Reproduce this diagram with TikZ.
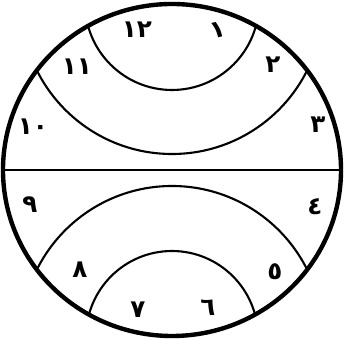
\documentclass[tikz,border=0pt]{standalone}
\usepackage{fontspec}
\newfontfamily\arabicfont[Script=Arabic]{DejaVu Sans}
\usepackage{tikz}
\usetikzlibrary{calc}

\tikzset{
  num/.style={font=\arabicfont\bfseries\fontsize{14}{16}\selectfont,inner sep=0pt},
  rim/.style={line width=2.5pt},
  band/.style={line width=1.2pt}
}

\begin{document}
\begin{tikzpicture}[x=0.02cm,y=0.02cm]
  \useasboundingbox (-172,-170) rectangle (172,170);
  % bands
  \begin{scope}
    \clip (0,0) ellipse (169 and 166);
    \draw[band] (0,167)  circle (87);
    \draw[band] (0,167)  circle (151);
    \draw[band] (0,-167) circle (86);
    \draw[band] (0,-167) circle (151);
  \end{scope}
  \coordinate (W) at (-169,0);
  \coordinate (E) at (169,0);
  \draw[band] (W) -- (E);
  \draw[rim] (0,0) ellipse (169 and 166);
  % numbers
  \node[num]           (n12) at (-35,140)  {١٢};
  \node[num,rotate=15] (n1)  at (46,140)   {١};
  \node[num]           (n2)  at (101,105)  {٢};
  \node[num]           (n3)  at (146,45)   {٣};
  \node[num]           (n4)  at (143,-37)  {٤};
  \node[num]           (n5)  at (103,-102) {٥};
  \node[num]           (n6)  at (36,-138)  {٦};
  \node[num]           (n7)  at (-34,-140) {٧};
  \node[num]           (n8)  at (-92,-100) {٨};
  \node[num]           (n9)  at (-142,-35) {٩};
  \node[num]           (n10) at (-139,43)  {١٠};
  \node[num]           (n11) at (-95,103)  {١١};
\end{tikzpicture}
\end{document}
